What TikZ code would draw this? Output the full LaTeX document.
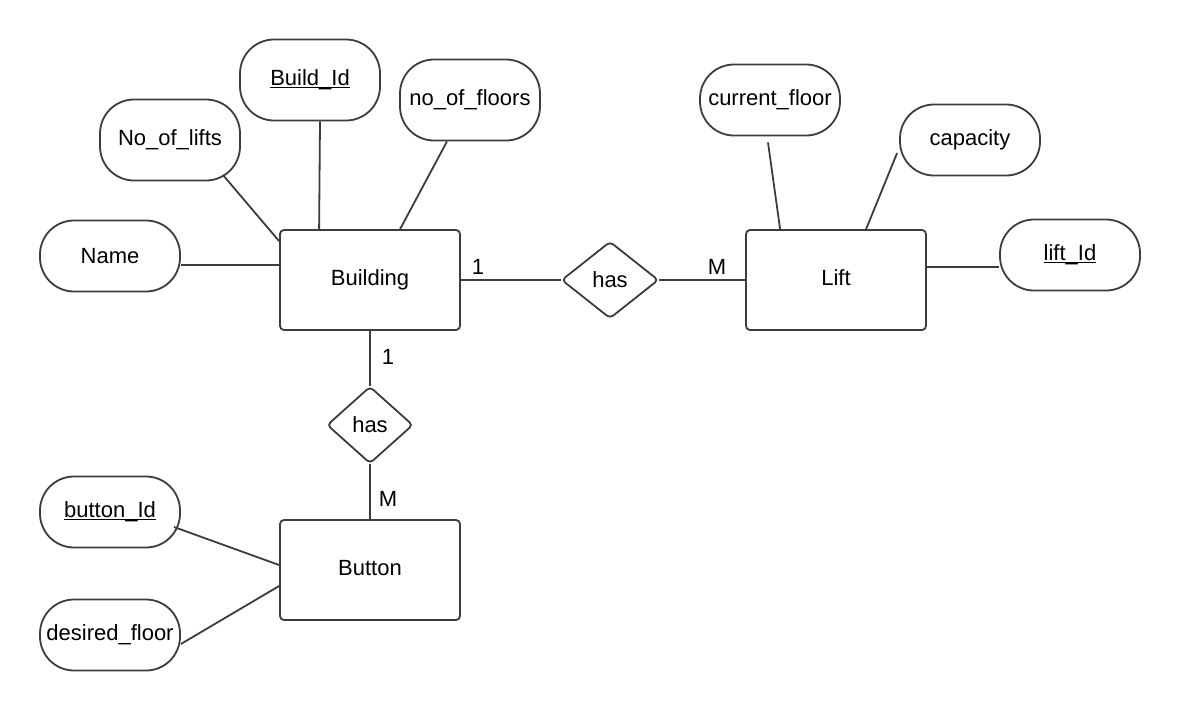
\documentclass[tikz,border=0pt]{standalone}
\usepackage{fontspec}
\setmainfont{Liberation Sans}
\usetikzlibrary{shapes.geometric,calc}
\definecolor{ln}{HTML}{3C3C3C}
\newcommand{\keyattr}[1]{\underline{\smash{#1}}\vphantom{#1}}
\tikzset{
  ent/.style={draw=ln, line width=1.8pt, rounded corners=4pt, minimum width=180pt, minimum height=100pt, inner sep=0pt, font=\fontsize{22}{26}\selectfont},
  attr/.style={draw=ln, line width=1.8pt, rounded corners=34pt, minimum width=140pt, minimum height=71pt, inner sep=0pt, font=\fontsize{22}{26}\selectfont},
  rel/.style={draw=ln, line width=1.8pt, diamond, rounded corners=4pt, inner sep=0pt, font=\fontsize{22}{26}\selectfont},
  conn/.style={draw=ln, line width=1.8pt},
  card/.style={font=\fontsize{22}{26}\selectfont, inner sep=0pt}
}
\begin{document}
\begin{tikzpicture}[x=1pt,y=-1pt]
\useasboundingbox (0,0) rectangle (1180,710);
% entities
\node[ent] (Building) at (370,280) {\raisebox{4pt}{Building}};
\node[ent] (Lift) at (836,280) {\raisebox{4pt}{Lift}};
\node[ent] (Button) at (370,570) {\raisebox{4pt}{Button}};
% relationships
\node[rel, minimum width=97pt, minimum height=77pt] (has1) at (610,280) {has};
\node[rel, minimum width=86pt, minimum height=77pt] (has2) at (370,425) {has};
% attributes
\node[attr] (Name) at (110,256) {Name};
\node[attr, minimum height=81pt] (Nolifts) at (170,140) {No\_of\_lifts};
\node[attr, minimum height=81pt] (BuildId) at (310,80) {\keyattr{Build\_Id}};
\node[attr, minimum height=81pt] (Nofloors) at (470,100) {no\_of\_floors};
\node[attr] (Curfloor) at (770,100) {current\_floor};
\node[attr] (Capacity) at (970,140) {capacity};
\node[attr] (LiftId) at (1070,255) {\keyattr{lift\_Id}};
\node[attr] (ButtonId) at (110,512) {\keyattr{button\_Id}};
\node[attr] (Desired) at (110,635) {desired\_floor};
% connectors
\draw[conn] ($(Name.east)+(0,9)$) -- ($(Building.west)+(0,-15)$);
\draw[conn] ($(Nolifts.center)+(53,35)$) -- ($(Building.north west)+(0,12)$);
\draw[conn] ($(BuildId.south)+(10,0)$) -- ($(Building.north west)+(40,0)$);
\draw[conn] ($(Nofloors.south)+(-23,0)$) -- ($(Building.north west)+(121,0)$);
\draw[conn] (Building.east) -- (has1.west);
\draw[conn] (has1.east) -- (Lift.west);
\draw[conn] ($(Curfloor.south)+(-2,6)$) -- ($(Lift.north west)+(35,0)$);
\draw[conn] ($(Capacity.west)+(-2,13)$) -- ($(Lift.north west)+(121,0)$);
\draw[conn] ($(Lift.east)+(0,-13)$) -- ($(LiftId.west)+(0,12)$);
\draw[conn] (Building.south) -- (has2.north);
\draw[conn] (has2.south) -- (Button.north);
\draw[conn] ($(ButtonId.center)+(64,15)$) -- ($(Button.west)+(0,-5)$);
\draw[conn] ($(Desired.east)+(0,9)$) -- ($(Button.west)+(0,16)$);
% cardinalities
\node[card] (c1) at (478,267) {1};
\node[card] (c2) at (717,267) {M};
\node[card] (c3) at (388,357) {1};
\node[card] (c4) at (388,499) {M};
\end{tikzpicture}
\end{document}
